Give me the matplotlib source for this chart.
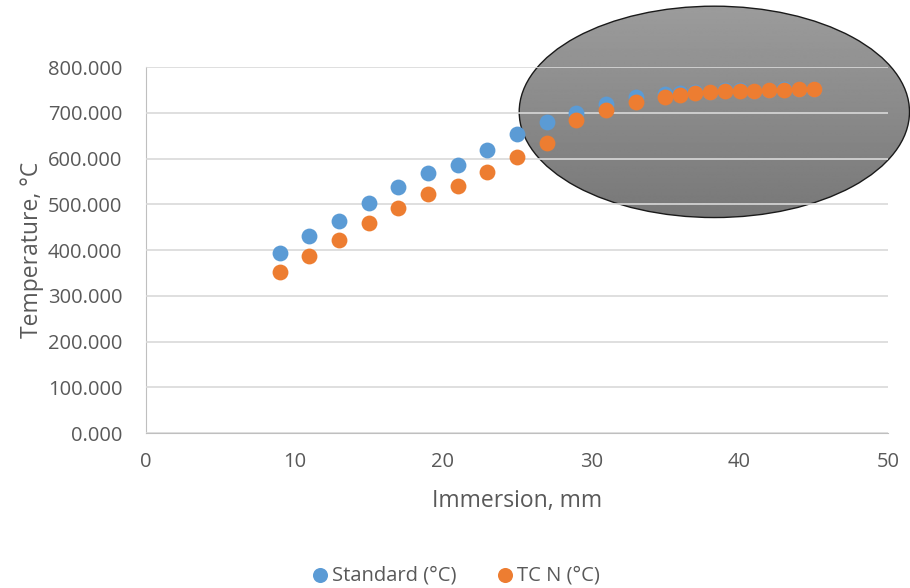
import numpy as np
import matplotlib.pyplot as plt
from matplotlib.patches import Ellipse
from matplotlib.ticker import FormatStrFormatter

plt.rcParams['font.family'] = ['Open Sans', 'DejaVu Sans']

immersion = [9, 11, 13, 15, 17, 19, 21, 23, 25, 27, 29, 31, 33,
             35, 36, 37, 38, 39, 40, 41, 42, 43, 44, 45]
standard = [393, 431, 463, 502, 538, 569, 586, 619, 653, 680, 700, 719, 734,
            741, 743, 745, 746, 749, 749, 748, 750, 751, 752, 753]
tc_n = [352, 388, 421, 459, 492, 522, 539, 571, 604, 635, 684, 706, 724,
        734, 738, 744, 745, 748, 748, 747, 749, 750, 751, 752]

blue = '#5B9BD5'
orange = '#ED7D31'
text_color = '#595959'

# highlight region around the plateau (data units)
hl_center = (38.3, 702)
hl_width = 26.3
hl_height = 462

fig = plt.figure(figsize=(9.1, 5.88), dpi=100)
ax = fig.add_axes([0.1604, 0.2636, 0.8154, 0.6224])

ax.set_xlim(0, 50)
ax.set_ylim(0, 800)
ax.set_xticks(range(0, 51, 10))
ax.set_yticks(range(0, 801, 100))
ax.yaxis.set_major_formatter(FormatStrFormatter('%.3f'))

# gridlines sit above the ellipse but under the points
ax.set_axisbelow(False)
ax.grid(axis='y', color='#D9D9D9', linewidth=1.2)
for side in ['top', 'right']:
    ax.spines[side].set_visible(False)
for side in ['left', 'bottom']:
    ax.spines[side].set_color('#BFBFBF')
ax.tick_params(length=0, labelsize=14.5, colors=text_color)
ax.tick_params(axis='y', pad=17)
ax.tick_params(axis='x', pad=14)

# grey gradient ellipse
ell = Ellipse(hl_center, hl_width, hl_height, facecolor='none',
              edgecolor='#1a1a1a', linewidth=1.0, clip_on=False, zorder=1.2)
ax.add_patch(ell)
grad = np.linspace(0.61, 0.47, 256).reshape(-1, 1)
x0, y0 = hl_center[0] - hl_width / 2, hl_center[1] - hl_height / 2
im = ax.imshow(grad, cmap='gray', vmin=0, vmax=1, aspect='auto',
               extent=[x0, x0 + hl_width, y0, y0 + hl_height],
               origin='upper', zorder=1.1, interpolation='bilinear')
im.set_clip_box(fig.bbox)
im.set_clip_path(ell)
ax.set_xlim(0, 50)
ax.set_ylim(0, 800)

ax.scatter(immersion, standard, s=130, color=blue, linewidths=0,
           label='Standard (°C)', zorder=3, clip_on=False)
ax.scatter(immersion, tc_n, s=130, color=orange, linewidths=0,
           label='TC N (°C)', zorder=4, clip_on=False)

ax.set_xlabel('Immersion, mm', fontsize=16.5, color=text_color, labelpad=12)
ax.set_ylabel('Temperature, °C', fontsize=16.5, color=text_color, labelpad=3)

fig.legend(loc='lower center', bbox_to_anchor=(0.494, -0.026), ncol=2,
           frameon=False, fontsize=14.5, labelcolor=text_color,
           handletextpad=-0.4, columnspacing=1.4, markerscale=0.95)

fig.savefig('out.png', dpi=100)
